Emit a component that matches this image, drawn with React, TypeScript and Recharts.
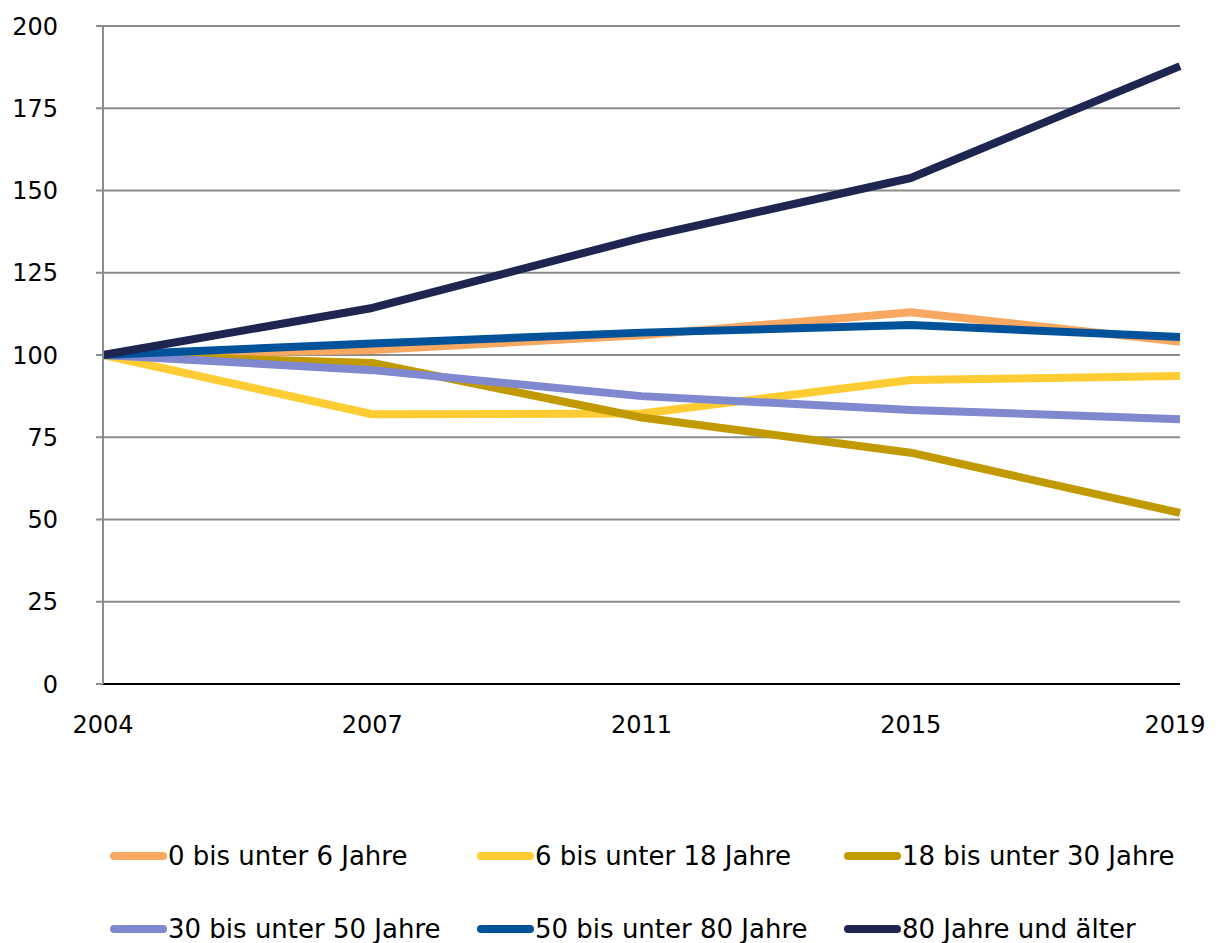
import React from 'react';
import { LineChart, Line, XAxis, YAxis, CartesianGrid } from 'recharts';

const years = ['2004', '2007', '2011', '2015', '2019'];
const s0to6 = [100, 101.5, 106, 113, 104];
const s6to18 = [100, 82, 82.2, 92.4, 93.6];
const s18to30 = [100, 97.6, 81, 70.3, 52];
const s30to50 = [100, 95.4, 87.5, 83.3, 80.5];
const s50to80 = [100, 103.5, 106.8, 109.1, 105.5];
const s80plus = [100, 114.3, 135.6, 153.8, 187.8];
const yTicks = [0, 25, 50, 75, 100, 125, 150, 175, 200];

const series = [
  { key: 'a', name: '0 bis unter 6 Jahre', values: s0to6, color: '#F9A862' },
  { key: 'b', name: '6 bis unter 18 Jahre', values: s6to18, color: '#FFCC33' },
  { key: 'c', name: '18 bis unter 30 Jahre', values: s18to30, color: '#C09A00' },
  { key: 'd', name: '30 bis unter 50 Jahre', values: s30to50, color: '#8088CF' },
  { key: 'e', name: '50 bis unter 80 Jahre', values: s50to80, color: '#00529B' },
  { key: 'f', name: '80 Jahre und älter', values: s80plus, color: '#1E2550' },
];

const data = years.map((y, i) => {
  const row: Record<string, string | number> = { year: y };
  series.forEach((s) => (row[s.key] = s.values[i]));
  return row;
});

const FONT = '"DejaVu Sans", Verdana, sans-serif';

const XTick = (props: any) => {
  const { x, y, payload, index } = props;
  const last = index === years.length - 1;
  return (
    <text
      x={x}
      y={y}
      dy="0.71em"
      dx={last ? -5 : 0}
      textAnchor="middle"
      fill="#000"
      fontSize={24}
      fontFamily={FONT}
    >
      {payload.value}
    </text>
  );
};

export default function App() {
  return (
    <div style={{ position: 'relative', width: 1200, height: 935, fontFamily: FONT }}>
      <style>{'html{overflow:hidden;}'}</style>
      <LineChart
        width={1200}
        height={750}
        data={data}
        margin={{ top: 18, right: 28, bottom: 14, left: 0 }}
      >
        <CartesianGrid vertical={false} stroke="#8c8c8c" strokeWidth={2} />
        <XAxis
          dataKey="year"
          height={60}
          axisLine={{ stroke: '#000', strokeWidth: 2 }}
          tickLine={false}
          tickMargin={26}
          interval={0}
          padding={{ left: 0, right: 0 }}
          tick={<XTick />}
        />
        <YAxis
          width={95}
          domain={[0, 200]}
          ticks={yTicks}
          interval={0}
          axisLine={{ stroke: '#8c8c8c', strokeWidth: 2 }}
          tickLine={{ stroke: '#8c8c8c', strokeWidth: 2 }}
          tickSize={7}
          tickMargin={38}
          tick={{ fill: '#000', fontSize: 24, fontFamily: FONT }}
        />
        {series.map((s) => (
          <Line
            key={s.key}
            dataKey={s.key}
            name={s.name}
            stroke={s.color}
            strokeWidth={8}
            strokeLinejoin="round"
            dot={false}
            activeDot={false}
            isAnimationActive={false}
          />
        ))}
      </LineChart>
      {series.map((s, i) => {
        const col = i % 3;
        const row = Math.floor(i / 3);
        const left = 102 + col * 367;
        const top = 849 - 8 + row * 73 - 9;
        return (
          <div
            key={s.key}
            style={{
              position: 'absolute',
              left,
              top,
              display: 'flex',
              alignItems: 'center',
              height: 32,
              whiteSpace: 'nowrap',
            }}
          >
            <div
              style={{
                width: 57,
                height: 8,
                borderRadius: 4,
                background: s.color,
                marginRight: 1,
              }}
            />
            <span style={{ fontSize: 26, color: '#000', fontFamily: FONT }}>{s.name}</span>
          </div>
        );
      })}
    </div>
  );
}
